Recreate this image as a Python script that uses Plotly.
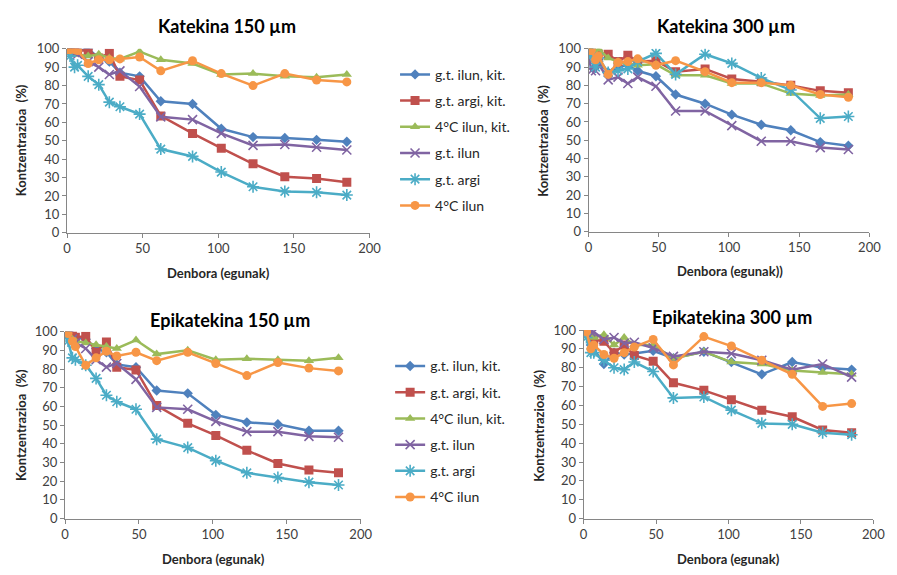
import plotly.graph_objects as go

W, H = 897, 575
OFF = 8  # default page body margin of the HTML page

days = [0, 2, 5, 7, 14, 21, 28, 35, 48, 62, 83, 102, 123, 144, 165, 185]

series_names = ["g.t. ilun, kit.", "g.t. argi, kit.", "4°C ilun, kit.", "g.t. ilun", "g.t. argi", "4°C ilun"]

# Katekina 150 µm
k150_gt_ilun_kit = [100, 100, 99, 99, 100, 95, 93, 87, 85, 71.5, 70, 56.5, 52, 51.5, 50.5, 49.5]
k150_gt_argi_kit = [100, 100, 99, 99, 99, 95, 97.5, 85, 83, 63.5, 54, 46, 37.5, 30.5, 29.5, 27.5]
k150_4c_ilun_kit = [99, 98, 97, 97, 96, 97, 95, 94.5, 98.5, 94, 92, 86, 86.5, 85, 84.5, 86]
k150_gt_ilun = [100, 99, 98, 97, 93, 90, 86, 88, 79.5, 63, 61.5, 54, 47.5, 48, 46.5, 45]
k150_gt_argi = [100, 96, 90, 91, 85, 80.5, 71, 68.5, 64.5, 45.5, 41.5, 33, 25, 22.5, 22, 20.5]
k150_4c_ilun = [99.5, 99.5, 99.5, 99, 92, 94, 94, 94.5, 95.5, 88, 93.5, 86.5, 80, 86.5, 83, 82]

# Katekina 300 µm
k300_gt_ilun_kit = [100, 97, 90, 93, 87, 90, 91, 88, 85, 75, 70, 64, 58.5, 55.5, 49, 47]
k300_gt_argi_kit = [100, 99, 95, 97, 97, 93, 96.5, 93, 93.5, 87.5, 89, 83.5, 82, 80, 77, 76]
k300_4c_ilun_kit = [100, 99, 98, 100, 95, 93, 92, 91, 91.5, 85.5, 85.5, 81, 81, 75.5, 74.5, 75]
k300_gt_ilun = [97, 88, 88, 92, 83, 84.5, 81, 84.5, 79.5, 66, 66, 58, 49.5, 49.5, 46, 45]
k300_gt_argi = [100, 96, 90, 95, 87, 88, 89, 93, 97.5, 86, 97, 92, 84, 77.5, 62, 63]
k300_4c_ilun = [99, 99, 94, 96, 86, 92.5, 93, 94.5, 91, 93.5, 87.5, 81.5, 81.5, 80, 75, 73.5]

# Epikatekina 150 µm
e150_gt_ilun_kit = [100, 99, 98, 97, 96, 91, 89, 82.5, 81, 68.5, 67, 55.5, 51.5, 50.5, 47, 47]
e150_gt_argi_kit = [100, 99, 98, 97, 97.5, 89, 94.5, 81, 79.5, 60.5, 51, 44.5, 36.5, 29.5, 26, 24.5]
e150_4c_ilun_kit = [99, 98, 96, 95, 94, 93, 92, 91, 95.5, 88, 90, 85, 85.5, 85, 84.5, 86]
e150_gt_ilun = [100, 98, 96, 94, 91, 85, 81, 83, 74.5, 59.5, 58.5, 52, 46.5, 46.5, 44, 43.5]
e150_gt_argi = [100, 95, 86, 85, 82, 75, 66, 62.5, 58.5, 42.5, 38, 31, 24.5, 22, 19.5, 18]
e150_4c_ilun = [100, 99, 95, 92, 82, 86, 89.5, 87, 89, 84.5, 89, 83, 76.5, 83.5, 80.5, 79]

# Epikatekina 300 µm
e300_gt_ilun_kit = [100, 99, 92, 90, 82, 88, 87, 87.5, 89, 85, 88.5, 83, 76.5, 83, 80, 79]
e300_gt_argi_kit = [100, 99, 96, 95, 94, 88, 92, 86.5, 83.5, 72, 68, 63, 57.5, 54, 47, 45.5]
e300_4c_ilun_kit = [100, 99, 98, 96, 97.5, 92, 96, 92, 92, 85, 88.5, 83, 82, 78.5, 77.5, 76.5]
e300_gt_ilun = [100, 100, 99, 99, 95, 96, 93, 93.5, 90.5, 86, 88.5, 87.5, 84, 79, 82, 75]
e300_gt_argi = [100, 96, 88, 88, 84, 80, 79, 83, 78, 64, 64.5, 57.5, 50.5, 50, 45.5, 44.5]
e300_4c_ilun = [100, 99, 90, 92, 87, 85, 88, 91, 95, 81.5, 96.5, 91.5, 84, 76.5, 59.5, 61]

panels = [
    dict(title="Katekina 150 µm", xtitle="Denbora (egunak)",
         data=[k150_gt_ilun_kit, k150_gt_argi_kit, k150_4c_ilun_kit, k150_gt_ilun, k150_gt_argi, k150_4c_ilun],
         px=(64, 372), py=(231, 41.7), legend="legend",
         tpos=(227, 18), xtpos=(218, 272), ytpos=(18, 136)),
    dict(title="Katekina 300 µm", xtitle="Denbora (egunak))",
         data=[k300_gt_ilun_kit, k300_gt_argi_kit, k300_4c_ilun_kit, k300_gt_ilun, k300_gt_argi, k300_4c_ilun],
         px=(595, 881), py=(230, 41.7), legend=None,
         tpos=(735, 18), xtpos=(739, 270), ytpos=(549, 136)),
    dict(title="Epikatekina 150 µm", xtitle="Denbora (egunak)",
         data=[e150_gt_ilun_kit, e150_gt_argi_kit, e150_4c_ilun_kit, e150_gt_ilun, e150_gt_argi, e150_4c_ilun],
         px=(62, 363), py=(525, 332.7), legend="legend2",
         tpos=(230, 321), xtpos=(213, 567), ytpos=(17, 429)),
    dict(title="Epikatekina 300 µm", xtitle="Denbora (egunak)",
         data=[e300_gt_ilun_kit, e300_gt_argi_kit, e300_4c_ilun_kit, e300_gt_ilun, e300_gt_argi, e300_4c_ilun],
         px=(590, 885), py=(525, 331), legend=None,
         tpos=(741, 318), xtpos=(738, 567), ytpos=(545, 429)),
]

colors = ["#4F81BD", "#C0504D", "#9BBB59", "#8064A2", "#4BACC6", "#F79646"]
symbols = ["diamond", "square", "triangle-up", "x-thin-open", "asterisk-open", "circle"]
msizes = [8, 9, 9, 9, 10, 9]

FONT = "Lato"

def fx(x):
    return (x - OFF) / W

def fy(y):
    return 1 - (y - OFF) / H

fig = go.Figure()
annotations = []
for i, p in enumerate(panels):
    n = i + 1
    xa = "x" if n == 1 else f"x{n}"
    ya = "y" if n == 1 else f"y{n}"
    for j, vals in enumerate(p["data"]):
        marker = dict(symbol=symbols[j], size=msizes[j], color=colors[j],
                      line=dict(color=colors[j], width=1.6 if j in (3, 4) else 0))
        kw = dict(x=days, y=vals, mode="lines+markers", name=series_names[j],
                  line=dict(color=colors[j], width=2.5), marker=marker,
                  xaxis=xa, yaxis=ya, legendgroup=f"{n}_{j}")
        if p["legend"]:
            kw["legend"] = p["legend"]
            kw["showlegend"] = True
        else:
            kw["showlegend"] = False
        fig.add_trace(go.Scatter(**kw))
    axcommon = dict(showgrid=False, zeroline=False, showline=True, linecolor="#868686",
                    linewidth=1, ticks="outside", ticklen=4, tickcolor="#868686",
                    ticklabeloverflow="allow",
                    tickfont=dict(family=FONT, size=13, color="#404040"))
    xkey = "xaxis" if n == 1 else f"xaxis{n}"
    ykey = "yaxis" if n == 1 else f"yaxis{n}"
    fig.update_layout(**{
        xkey: dict(domain=[fx(p["px"][0]), fx(p["px"][1])], range=[0, 200], dtick=50,
                   anchor=ya, **axcommon),
        ykey: dict(domain=[fy(p["py"][0]), fy(p["py"][1])], range=[0, 100], dtick=10,
                   anchor=xa, **axcommon),
    })
    annotations.append(dict(text=f"<b>{p['title']}</b>", x=fx(p["tpos"][0]), y=fy(p["tpos"][1]),
                            xref="paper", yref="paper", showarrow=False,
                            font=dict(family=FONT, size=18, color="#000000"),
                            xanchor="center", yanchor="middle"))
    annotations.append(dict(text=f"<b>{p['xtitle']}</b>", x=fx(p["xtpos"][0]), y=fy(p["xtpos"][1]),
                            xref="paper", yref="paper", showarrow=False,
                            font=dict(family=FONT, size=13, color="#262626"),
                            xanchor="center", yanchor="middle"))
    annotations.append(dict(text="<b>Kontzentrazioa  (%)</b>", x=fx(p["ytpos"][0]), y=fy(p["ytpos"][1]),
                            xref="paper", yref="paper", showarrow=False, textangle=-90,
                            font=dict(family=FONT, size=13, color="#262626"),
                            xanchor="center", yanchor="middle"))

legend_common = dict(font=dict(family=FONT, size=14, color="#262626"), bgcolor="rgba(0,0,0,0)",
                     traceorder="grouped", tracegroupgap=5, itemwidth=30,
                     xanchor="left", yanchor="top")
fig.update_layout(
    width=W, height=H,
    margin=dict(l=0, r=0, t=0, b=0),
    paper_bgcolor="white", plot_bgcolor="white",
    annotations=annotations,
    legend=dict(x=fx(398), y=fy(52), **legend_common),
    legend2=dict(x=fx(393), y=fy(352), **legend_common),
)

fig.write_html("out.html")
